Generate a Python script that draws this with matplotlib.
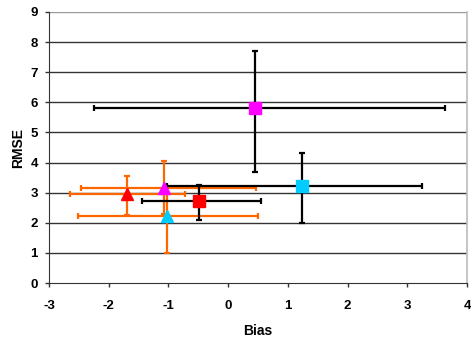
import matplotlib
matplotlib.use("Agg")
import matplotlib.pyplot as plt

plt.rcParams['font.family'] = ['Liberation Sans', 'DejaVu Sans']

# Squares (black error bars)
sq_names = ["red_sq", "cyan_sq", "magenta_sq"]
sq_bias = [-0.48, 1.24, 0.45]
sq_rmse = [2.72, 3.22, 5.82]
sq_x_lo = [-1.45, -1.02, -2.24]
sq_x_hi = [0.55, 3.24, 3.63]
sq_y_lo = [2.09, 2.00, 3.67]
sq_y_hi = [3.27, 4.32, 7.72]
sq_colors = ["#ff0000", "#00ccff", "#ff00ff"]

# Triangles (orange error bars)
tr_names = ["red_tr", "magenta_tr", "cyan_tr"]
tr_bias = [-1.69, -1.07, -1.02]
tr_rmse = [2.96, 3.17, 2.22]
tr_x_lo = [-2.64, -2.47, -2.51]
tr_x_hi = [-0.72, 0.47, 0.50]
tr_y_lo = [2.26, 2.30, 1.00]
tr_y_hi = [3.55, 4.05, 3.20]
tr_colors = ["#ff0000", "#ff00ff", "#00ccff"]

x_ticks = [-3, -2, -1, 0, 1, 2, 3, 4]
y_ticks = [0, 1, 2, 3, 4, 5, 6, 7, 8, 9]

fig = plt.figure(figsize=(4.71, 3.39), dpi=100)
ax = fig.add_axes([49/471, 1-283/339, (467-49)/471, (283-12)/339])

for y in y_ticks[1:-1]:
    ax.axhline(y, color="#333333", lw=1.0, zorder=0)
ax.axhline(9, color="#999999", lw=1.0, zorder=0)

def draw(xs, ys, xlo, xhi, ylo, yhi, cols, ecolor, marker, ms):
    for i in range(len(xs)):
        ax.errorbar(xs[i], ys[i],
                    xerr=[[xs[i]-xlo[i]], [xhi[i]-xs[i]]],
                    yerr=[[ys[i]-ylo[i]], [yhi[i]-ys[i]]],
                    fmt='none', ecolor=ecolor, elinewidth=1.6,
                    capsize=2.5, capthick=1.6, zorder=2)
    for i in range(len(xs)):
        ax.plot(xs[i], ys[i], marker=marker, color=cols[i], ms=ms,
                mec=cols[i], ls='none', zorder=4)

draw(tr_bias, tr_rmse, tr_x_lo, tr_x_hi, tr_y_lo, tr_y_hi, tr_colors, "#ff6600", '^', 8.5)
draw(sq_bias, sq_rmse, sq_x_lo, sq_x_hi, sq_y_lo, sq_y_hi, sq_colors, "#000000", 's', 8)

ax.set_xlim(-3, 4)
ax.set_ylim(0, 9)
ax.set_xticks(x_ticks)
ax.set_yticks(y_ticks)
ax.set_xticklabels([str(v) for v in x_ticks], fontsize=9.5, fontweight='bold')
ax.set_yticklabels([str(v) for v in y_ticks], fontsize=9.5, fontweight='bold')
ax.tick_params(axis='x', direction='out', length=3, width=1, color="#333333", pad=9)
ax.tick_params(axis='y', direction='out', length=3, width=1, color="#333333", pad=5)

ax.spines["top"].set_visible(False)
ax.spines["right"].set_color("#bbbbbb")
ax.spines["right"].set_linewidth(1.2)
ax.spines["left"].set_color("#333333")
ax.spines["bottom"].set_color("#333333")

ax.set_xlabel("Bias", fontsize=10, fontweight='bold', labelpad=9)
ax.set_ylabel("RMSE", fontsize=10, fontweight='bold', labelpad=4)

fig.savefig("out.png", dpi=100)
